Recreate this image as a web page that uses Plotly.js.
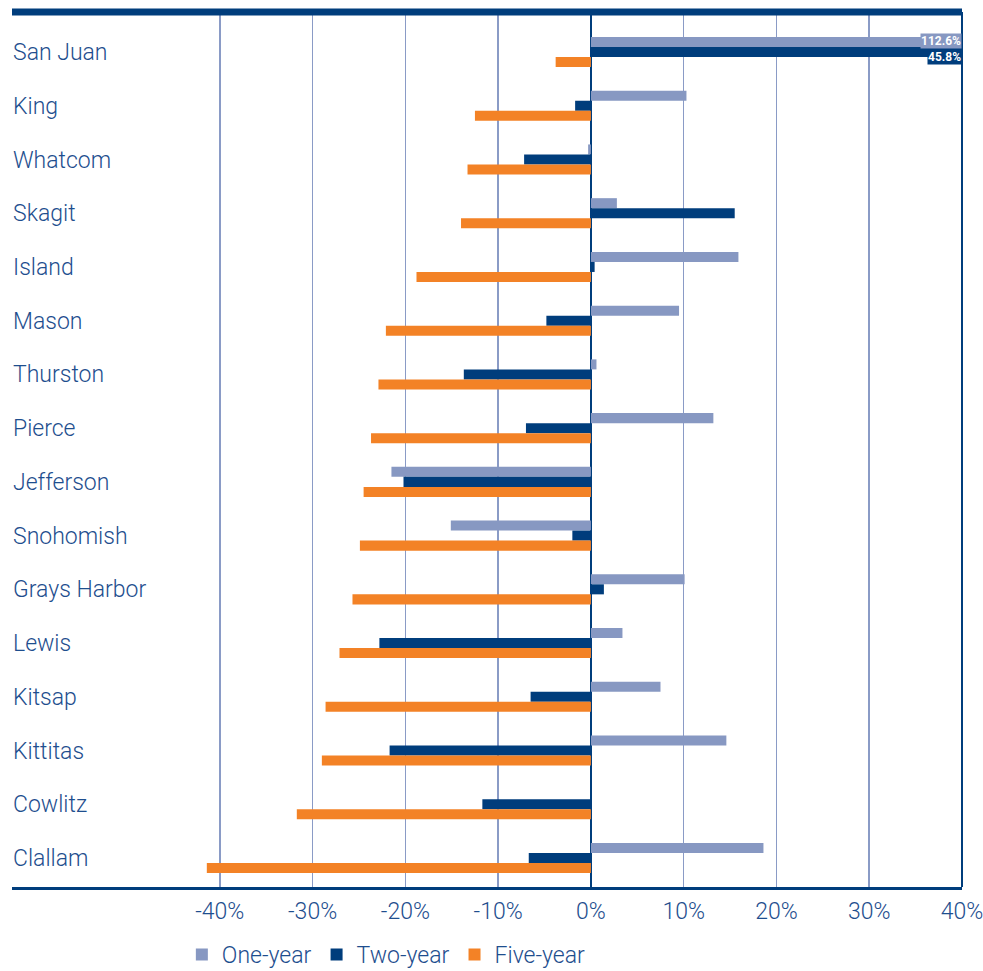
<!DOCTYPE html>
<html>
<head>
<meta charset="utf-8">
<script src="https://cdn.plot.ly/plotly-3.0.1.min.js"></script>
<style>html,body{margin:0;padding:0;background:#fff;}#chart{width:983px;height:971px;}</style>
</head>
<body>
<div id="chart"></div>
<script>
const counties = ["San Juan","King","Whatcom","Skagit","Island","Mason","Thurston","Pierce","Jefferson","Snohomish","Grays Harbor","Lewis","Kitsap","Kittitas","Cowlitz","Clallam"];
const oneYear  = [112.6, 10.3, -0.3, 2.8, 15.9, 9.5, 0.6, 13.2, -21.5, -15.1, 10.1, 3.4, 7.5, 14.6, 0, 18.6];
const twoYear  = [45.8, -1.7, -7.2, 15.5, 0.4, -4.8, -13.7, -7.0, -20.2, -2.0, 1.4, -22.8, -6.5, -21.7, -11.7, -6.7];
const fiveYear = [-3.8, -12.5, -13.3, -14.0, -18.8, -22.1, -22.9, -23.7, -24.5, -24.9, -25.7, -27.1, -28.6, -29.0, -31.7, -41.4];
const seriesNames = ["One-year","Two-year","Five-year"];
const tickVals = [-40,-30,-20,-10,0,10,20,30,40];
const tickText = ["-40%","-30%","-20%","-10%","0%","10%","20%","30%","40%"];
const clippedLabels = ["112.6%","45.8%"];

const colors = ["#8798c2","#003d7c","#f38226"];
const navy = "#003d7c";
const textBlue = "#1e4e8e";
const fontFam = "Roboto, Lato, sans-serif";

const barTraces = [oneYear, twoYear, fiveYear].map((vals, i) => ({
  type: "bar",
  orientation: "h",
  name: seriesNames[i],
  y: counties,
  x: vals,
  marker: {color: colors[i], line: {width: 0}},
  showlegend: true
}));

const layout = {
  width: 983, height: 971,
  margin: {l: 12, r: 21, t: 12, b: 84},
  paper_bgcolor: "#fff", plot_bgcolor: "#fff",
  barmode: "group",
  bargap: 0.44,
  bargroupgap: 0,
  font: {family: fontFam, color: textBlue, weight: 300},
  xaxis: {
    range: [-62.4, 40],
    tickvals: tickVals,
    ticktext: tickText,
    showgrid: true, gridcolor: "#8a9bc6", gridwidth: 1.5,
    zeroline: true, zerolinecolor: navy, zerolinewidth: 2,
    showline: true, linecolor: navy, linewidth: 3,
    ticks: "", tickfont: {size: 23, color: textBlue, family: fontFam, weight: 300},
    ticklabelstandoff: 1,
    ticklabeloverflow: "allow",
    fixedrange: true
  },
  yaxis: {
    type: "category",
    categoryorder: "array", categoryarray: counties,
    range: [15.54, -0.745],
    showgrid: false, zeroline: false, showline: false,
    ticks: "",
    ticklabelposition: "inside",
    ticklabelstandoff: -2,
    tickfont: {size: 23, color: textBlue, family: fontFam, weight: 300},
    fixedrange: true
  },
  showlegend: true,
  legend: {
    orientation: "h",
    xref: "container", yref: "container",
    x: 0.185, xanchor: "left",
    y: 0.017, yanchor: "middle",
    font: {size: 23, color: textBlue, family: fontFam, weight: 300},
    itemwidth: 30,
    traceorder: "normal",
    bgcolor: "rgba(0,0,0,0)"
  },
  shapes: [
    {type: "line", xref: "paper", yref: "paper", x0: 0, x1: 1, y0: 1, y1: 1,
     line: {color: navy, width: 7}},
    {type: "line", xref: "paper", yref: "paper", x0: 1, x1: 1, y0: 0, y1: 1,
     line: {color: navy, width: 2}}
  ],
  annotations: [
    {x: 40, y: counties[0], xref: "x", yref: "y", xanchor: "right", yanchor: "middle",
     text: "<b>" + clippedLabels[0] + "</b>", showarrow: false, yshift: 11,
     font: {size: 12, color: "#fff", family: fontFam}, bgcolor: colors[0], borderpad: 0},
    {x: 40, y: counties[0], xref: "x", yref: "y", xanchor: "right", yanchor: "middle",
     text: "<b>" + clippedLabels[1] + "</b>", showarrow: false, yshift: -5,
     font: {size: 12, color: "#fff", family: fontFam}, bgcolor: colors[1], borderpad: 0}
  ]
};

Plotly.newPlot("chart", barTraces, layout, {displayModeBar: false, staticPlot: true});
</script>
</body>
</html>
